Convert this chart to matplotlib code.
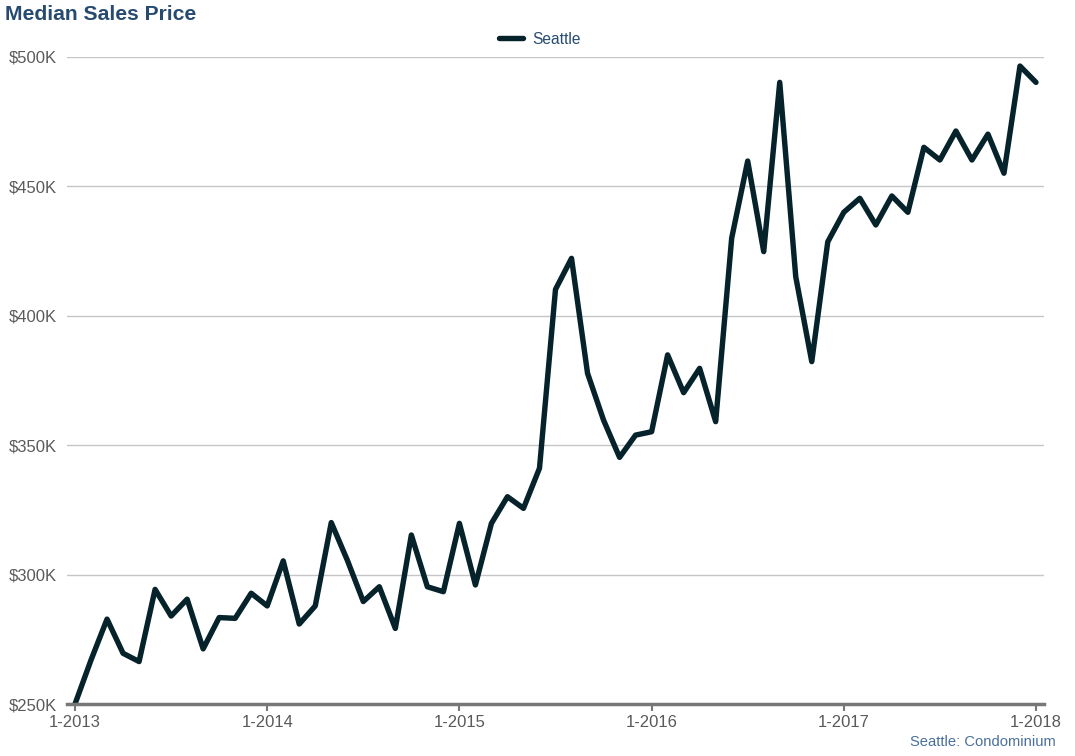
import numpy as np
import matplotlib
matplotlib.use('Agg')
import matplotlib.pyplot as plt
from matplotlib.ticker import FuncFormatter

plt.rcParams['font.family'] = ['Liberation Sans', 'DejaVu Sans']

# monthly median sales price, Jan 2013 .. Jan 2018 (thousands of $)
months = np.arange(61)
price_k = [
    250.0, 267.0, 282.8, 269.6, 266.4, 294.3, 284.0, 290.5, 271.3, 283.4,
    283.1, 292.8, 287.9, 305.3, 280.9, 287.9, 320.1, 305.6, 289.6, 295.3,
    279.2, 315.3, 295.3, 293.4, 319.8, 296.0, 319.8, 330.1, 325.6, 341.1,
    410.2, 422.2, 377.8, 359.7, 345.3, 353.9, 355.2, 384.9, 370.3, 379.7,
    359.1, 430.0, 459.8, 424.8, 490.2, 415.1, 382.3, 428.6, 440.0, 445.4,
    435.1, 446.3, 440.0, 465.1, 460.2, 471.4, 460.2, 470.2, 455.1, 496.5,
    490.2,
]
year_ticks = [0, 12, 24, 36, 48, 60]
year_labels = ['1-2013', '1-2014', '1-2015', '1-2016', '1-2017', '1-2018']
y_ticks = [250, 300, 350, 400, 450, 500]

line_color = '#06222a'
title_color = '#274b70'
text_gray = '#5a5a5a'

fig = plt.figure(figsize=(10.75, 7.56), dpi=100)
ax = fig.add_axes([67 / 1075, 1 - 704 / 756, (1044 - 67) / 1075, (704 - 57) / 756])

ax.plot(months, price_k, color=line_color, linewidth=3.9,
        solid_joinstyle='round', solid_capstyle='round', label='Seattle', zorder=3)

ax.set_xlim(-0.5, 60.5)
ax.set_ylim(250, 500)
ax.set_yticks(y_ticks)
ax.yaxis.set_major_formatter(FuncFormatter(lambda v, p: f'${int(v)}K'))
ax.set_xticks(year_ticks)
ax.set_xticklabels(year_labels)

ax.grid(axis='y', color='#c6c6c6', linewidth=1.0, zorder=0)
for side in ['top', 'right', 'left']:
    ax.spines[side].set_visible(False)
ax.spines['bottom'].set_color('#777777')
ax.spines['bottom'].set_linewidth(2.5)
ax.spines['bottom'].set_zorder(4)

ax.tick_params(axis='y', length=0, pad=7.5, labelsize=12, labelcolor=text_gray)
ax.tick_params(axis='x', length=5, width=1.5, color='#777777', pad=3,
               labelsize=12, labelcolor=text_gray)

fig.text(5 / 1075, 1 - 14 / 756, 'Median Sales Price', fontsize=15.2, fontweight='bold',
         color=title_color, ha='left', va='center')

leg = fig.legend(loc='center', bbox_to_anchor=(540 / 1075, 1 - 39 / 756), frameon=False,
                 fontsize=11.2, handlelength=1.5, handletextpad=0.6)
for t in leg.get_texts():
    t.set_color(title_color)

fig.text(1056 / 1075, 1 - 742 / 756, 'Seattle: Condominium', fontsize=10.6,
         color='#4a6f9c', ha='right', va='center')

fig.savefig('out.png', dpi=100)
